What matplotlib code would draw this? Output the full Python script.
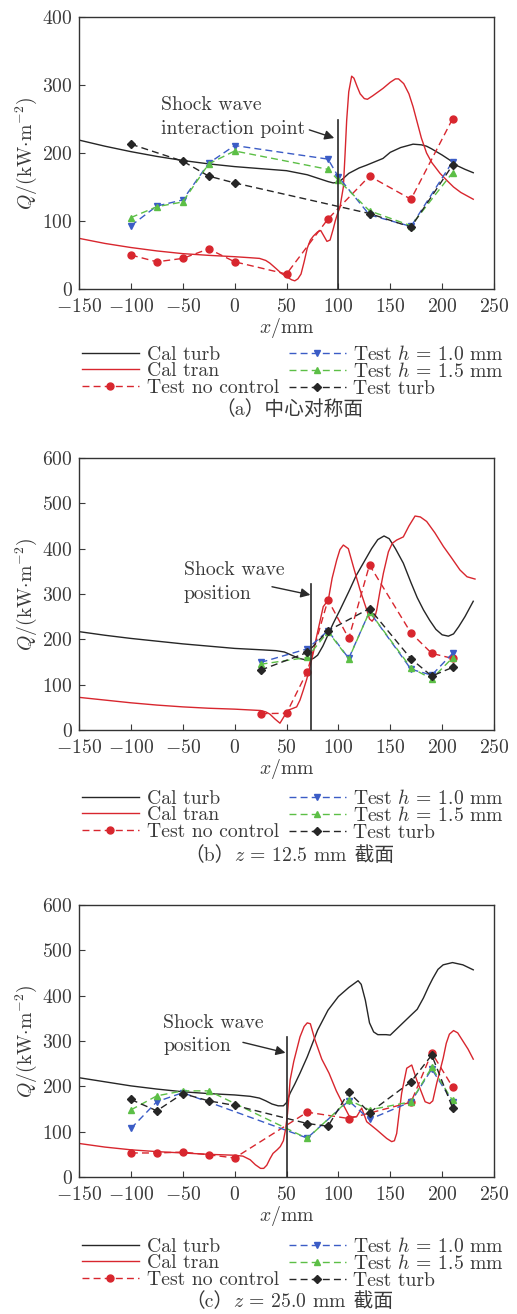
import matplotlib
matplotlib.use("Agg")
import matplotlib.pyplot as plt
from matplotlib.offsetbox import TextArea, HPacker, AnchoredOffsetbox

plt.rcParams['font.family'] = ['cmr10', 'Noto Sans CJK SC']
plt.rcParams['mathtext.fontset'] = 'cm'
plt.rcParams['axes.formatter.use_mathtext'] = True
plt.rcParams['axes.unicode_minus'] = True

TXT = '#3a3a3a'
C_BLACK = '#262626'
C_RED = '#d8262e'
C_BLUE = '#3b5cc6'
C_GREEN = '#5cbf46'

# ---------------- (a) centre symmetry plane ----------------
a_turb_x = [-150, -125, -100, -75, -50, -25, 0, 25, 50, 60, 70, 80, 90, 95, 100, 105,
            110, 120, 127, 135, 143, 150, 160, 172, 180, 185, 190, 200, 207, 215, 222, 230]
a_turb_q = [219, 210, 202, 195, 189, 184, 180, 177, 174, 171, 168, 163, 158, 156, 157, 163,
            170, 178, 182, 187, 192, 201, 208, 213, 212, 210, 206, 197, 190, 181, 176, 171]
a_tran_x = [-150, -125, -100, -75, -50, -25, 0, 15, 24, 30, 34, 40, 45, 50, 55, 58, 61, 64,
            67, 70, 73, 76, 80, 83, 86, 89, 92, 95, 97, 99, 101.5, 104.8, 106.5, 108, 110,
            112.8, 115, 118, 121, 125, 128, 133, 143, 150, 155, 158, 163, 168, 172, 176,
            180, 185, 190, 198, 205, 211, 218, 224, 230]
a_tran_q = [74.5, 67, 61, 56, 52, 49.5, 47.5, 46, 45, 42, 38, 30, 23, 18, 13.5, 12, 15, 22,
            40, 60, 72, 78, 84, 86, 78, 70, 72, 88, 100, 110, 120, 150, 200, 248, 290,
            313, 310, 298, 287, 280, 279, 284, 295, 304, 309, 309, 302, 287, 268, 245,
            222, 200, 186, 170, 159, 150, 142, 137, 132]
a_noctl_x = [-100, -75, -50, -25, 0, 50, 90, 130, 170, 210]
a_noctl_q = [50, 40, 45, 59, 40, 22, 103, 166, 132, 250]
a_h10_x = [-100, -75, -50, -25, 0, 90, 100, 130, 170, 210]
a_h10_q = [93, 122, 131, 185, 211, 191, 165, 109, 92, 187]
a_h15_x = [-100, -75, -50, -25, 0, 90, 100, 130, 170, 210]
a_h15_q = [105, 121, 128, 184, 203, 176, 160, 115, 93, 171]
a_tturb_x = [-100, -50, -25, 0, 130, 170, 210]
a_tturb_q = [213, 188, 166, 156, 111, 91, 182]

# ---------------- (b) z = 12.5 mm ----------------
b_turb_x = [-150, -125, -100, -75, -50, -25, 0, 25, 40, 48, 55, 62, 68, 72, 76, 80, 85,
            90, 95, 101.6, 110, 117, 124, 132, 138, 144, 149, 155, 162.6, 170, 176, 182,
            188, 194, 200, 206, 211, 216, 222, 230]
b_turb_q = [217, 209, 202, 196, 190, 185, 180, 177, 175, 172, 165, 158, 155, 155, 158, 165,
            185, 210, 235, 265, 305, 340, 368, 400, 420, 428, 422, 400, 368, 325, 292, 265,
            242, 222, 210, 207, 212, 228, 250, 284]
b_tran_x = [-150, -125, -100, -75, -50, -25, 0, 25, 30, 34, 39, 43.7, 48.5, 52, 56.5, 59.8,
            63, 66.2, 69.5, 72.6, 76, 79, 85.4, 90.3, 94, 98.4, 101.5, 104.8, 109.6, 114.5,
            120.9, 127.3, 130, 132.5, 135, 137, 140, 143.4, 148.2, 152, 156.2, 162.6, 168,
            173.9, 179, 185.1, 193, 201.2, 209, 217.2, 224, 231.7]
b_tran_q = [72, 66, 60, 55, 51, 48, 46, 43, 40, 35, 24, 15, 33, 44, 48, 51,
            66, 88, 112, 140, 172, 206, 272, 287, 335, 375, 398, 408, 400, 360,
            309, 265, 245, 240, 248, 265, 305, 346, 393, 412, 419, 426, 450,
            472, 470, 460, 435, 405, 380, 353, 338, 333]
b_noctl_x = [25, 50, 70, 90, 110, 130, 170, 190, 210]
b_noctl_q = [36, 37, 129, 287, 202, 364, 214, 169, 158]
b_h10_x = [25, 70, 90, 110, 130, 170, 190, 210]
b_h10_q = [149, 179, 219, 158, 261, 134, 121, 169]
b_h15_x = [25, 70, 90, 110, 130, 170, 190, 210]
b_h15_q = [145, 160, 217, 157, 261, 137, 113, 159]
b_tturb_x = [25, 70, 90, 130, 170, 190, 210]
b_tturb_q = [132, 171, 219, 268, 157, 119, 138]

# ---------------- (c) z = 25.0 mm ----------------
c_turb_x = [-150, -125, -100, -75, -50, -25, 0, 15, 24, 30, 36, 42, 47, 50, 53.5, 58, 63,
            70, 80, 90, 100, 110, 116, 119, 122, 126, 130, 134, 138, 146, 150, 160, 170,
            176, 182, 187, 191, 196, 201, 210, 220, 230]
c_turb_q = [219, 210, 201, 194, 188, 184, 181, 178, 174, 168, 161, 157, 157, 164, 185, 205,
            229, 265, 324, 368, 398, 418, 428, 433, 425, 390, 340, 320, 314, 314, 313, 335,
            357, 370, 395, 420, 438, 458, 468, 473, 468, 457]
c_tran_x = [-150, -125, -100, -75, -50, -25, 0, 8, 15, 20, 25, 28, 31, 34, 37, 41, 44, 47,
            49, 51, 53.5, 57, 63, 67, 70, 73, 77.5, 84, 91, 98, 104.8, 111, 117.6, 122.5,
            127.3, 137, 146.6, 151.4, 154, 156.2, 158.5, 161, 165.9, 170.7, 175.5, 183.6,
            188, 191, 194.8, 198, 201, 204, 207, 211, 215, 220, 225, 230]
c_tran_q = [74, 66, 60, 56, 53, 50, 48, 46, 38, 27, 19, 19, 26, 40, 52, 60, 67, 80,
            104, 140, 214, 255, 309, 332, 340, 338, 302, 260, 229, 190, 159, 132, 133, 152,
            122, 104, 85, 78, 80, 96, 140, 185, 240, 247, 214, 166,
            162, 168, 207, 235, 262, 295, 315, 323, 318, 300, 282, 260]
c_noctl_x = [-100, -75, -50, -25, 0, 70, 110, 170, 190, 210]
c_noctl_q = [53, 53, 55, 49, 42, 143, 129, 165, 274, 199]
c_h10_x = [-100, -75, -50, 70, 110, 130, 170, 190, 210]
c_h10_q = [107, 166, 186, 86, 168, 127, 166, 238, 166]
c_h15_x = [-100, -75, -50, -25, 70, 110, 130, 170, 190, 210]
c_h15_q = [148, 179, 190, 190, 85, 170, 148, 166, 242, 169]
c_tturb_x = [-100, -75, -50, -25, 0, 70, 90, 110, 130, 170, 190, 210]
c_tturb_q = [171, 146, 184, 168, 158, 118, 112, 187, 142, 210, 269, 153]

x_ticks = [-150, -100, -50, 0, 50, 100, 150, 200, 250]

labels = ['Cal turb', 'Cal tran', 'Test no control',
          'Test $h$ = 1.0 mm', 'Test $h$ = 1.5 mm', 'Test turb']

panels = [
    dict(turb=(a_turb_x, a_turb_q), tran=(a_tran_x, a_tran_q),
         noctl=(a_noctl_x, a_noctl_q), h10=(a_h10_x, a_h10_q),
         h15=(a_h15_x, a_h15_q), tturb=(a_tturb_x, a_tturb_q),
         ymax=400, yticks=[0, 100, 200, 300, 400],
         shock_x=100, shock_top=248,
         note=['Shock wave', 'interaction point'], note_x=-71, note_y=[271, 236],
         arrow_from=(72, 234), arrow_to=(96, 222),
         cap=['（a）中心对称面'], top_px=17, leg_off=46, cap_off=121),
    dict(turb=(b_turb_x, b_turb_q), tran=(b_tran_x, b_tran_q),
         noctl=(b_noctl_x, b_noctl_q), h10=(b_h10_x, b_h10_q),
         h15=(b_h15_x, b_h15_q), tturb=(b_tturb_x, b_tturb_q),
         ymax=600, yticks=[0, 100, 200, 300, 400, 500, 600],
         shock_x=74, shock_top=322,
         note=['Shock wave', 'position'], note_x=-49, note_y=[353, 300],
         arrow_from=(36, 316), arrow_to=(73, 298),
         cap=['（b）', '$z$ = 12.5 mm', ' 截面'], top_px=458, leg_off=49, cap_off=126),
    dict(turb=(c_turb_x, c_turb_q), tran=(c_tran_x, c_tran_q),
         noctl=(c_noctl_x, c_noctl_q), h10=(c_h10_x, c_h10_q),
         h15=(c_h15_x, c_h15_q), tturb=(c_tturb_x, c_tturb_q),
         ymax=600, yticks=[0, 100, 200, 300, 400, 500, 600],
         shock_x=50, shock_top=308,
         note=['Shock wave', 'position'], note_x=-69, note_y=[340, 289],
         arrow_from=(8, 297), arrow_to=(49, 274),
         cap=['（c）', '$z$ = 25.0 mm', ' 截面'], top_px=905, leg_off=50, cap_off=125),
]

W, H = 517, 1314
fig = plt.figure(figsize=(W / 100, H / 100), dpi=100)

AX_L, AX_W, AX_H = 79, 415, 272
FS = 14.2
dash = (0, (5, 3))

for p in panels:
    bottom_px = p['top_px'] + AX_H
    ax = fig.add_axes([AX_L / W, 1 - bottom_px / H, AX_W / W, AX_H / H])

    ax.plot(*p['turb'], color=C_BLACK, lw=1.0, label=labels[0])
    ax.plot(*p['tran'], color=C_RED, lw=1.0, label=labels[1])
    ax.plot(*p['noctl'], color=C_RED, lw=1.0, ls=dash, marker='o', ms=5,
            label=labels[2])
    ax.plot(*p['h10'], color=C_BLUE, lw=1.0, ls=dash, marker='v', ms=4.5,
            label=labels[3])
    ax.plot(*p['h15'], color=C_GREEN, lw=1.0, ls=dash, marker='^', ms=4.5,
            label=labels[4])
    ax.plot(*p['tturb'], color=C_BLACK, lw=1.0, ls=dash, marker='D', ms=3.8,
            label=labels[5])

    ax.plot([p['shock_x'], p['shock_x']], [0, p['shock_top']], color='#2a2a2a', lw=1.2)
    for line, yv in zip(p['note'], p['note_y']):
        ax.text(p['note_x'], yv, line, fontsize=FS, color=TXT, va='center', ha='left')
    ax.annotate('', xy=p['arrow_to'], xytext=p['arrow_from'],
                arrowprops=dict(arrowstyle='-|>', color='#2a2a2a', lw=1.0,
                                mutation_scale=14, shrinkA=0, shrinkB=0))

    ax.set_xlim(-150, 250)
    ax.set_ylim(0, p['ymax'])
    ax.set_xticks(x_ticks)
    ax.set_yticks(p['yticks'])
    ax.tick_params(direction='in', length=4, width=0.8, labelsize=FS,
                   colors=TXT)
    ax.tick_params(axis='x', pad=6.5)
    ax.tick_params(axis='y', pad=4.5)
    for s in ax.spines.values():
        s.set_color('#333333')
        s.set_linewidth(1.0)
    ax.set_xlabel('$x$/mm', fontsize=FS, color=TXT, labelpad=0)
    ax.set_ylabel('$Q$/(kW$\\cdot$m$^{-2}$)', fontsize=FS, color=TXT, labelpad=2)

    leg = ax.legend(ncol=2, loc='upper center',
                    bbox_to_anchor=(293 / W, 1 - (bottom_px + p['leg_off']) / H),
                    bbox_transform=fig.transFigure, frameon=False, fontsize=FS,
                    handlelength=2.9, handletextpad=0.38, columnspacing=0.5,
                    labelspacing=-0.08, borderpad=0, numpoints=1)
    for t in leg.get_texts():
        t.set_color(TXT)

    parts = []
    for s in p['cap']:
        if '$' in s:
            parts.append(TextArea(s, textprops=dict(fontsize=FS, color=TXT,
                                                    family='cmr10')))
        else:
            parts.append(TextArea(s, textprops=dict(fontsize=FS, color=TXT,
                                                    family=['cmr10', 'Noto Sans CJK SC'])))
    box = HPacker(children=parts, align='baseline', pad=0, sep=0)
    anch = AnchoredOffsetbox(loc='center', child=box, frameon=False,
                             bbox_to_anchor=(289 / W, 1 - (bottom_px + p['cap_off']) / H),
                             bbox_transform=fig.transFigure, pad=0, borderpad=0)
    fig.add_artist(anch)

fig.savefig('out.png', dpi=100)
